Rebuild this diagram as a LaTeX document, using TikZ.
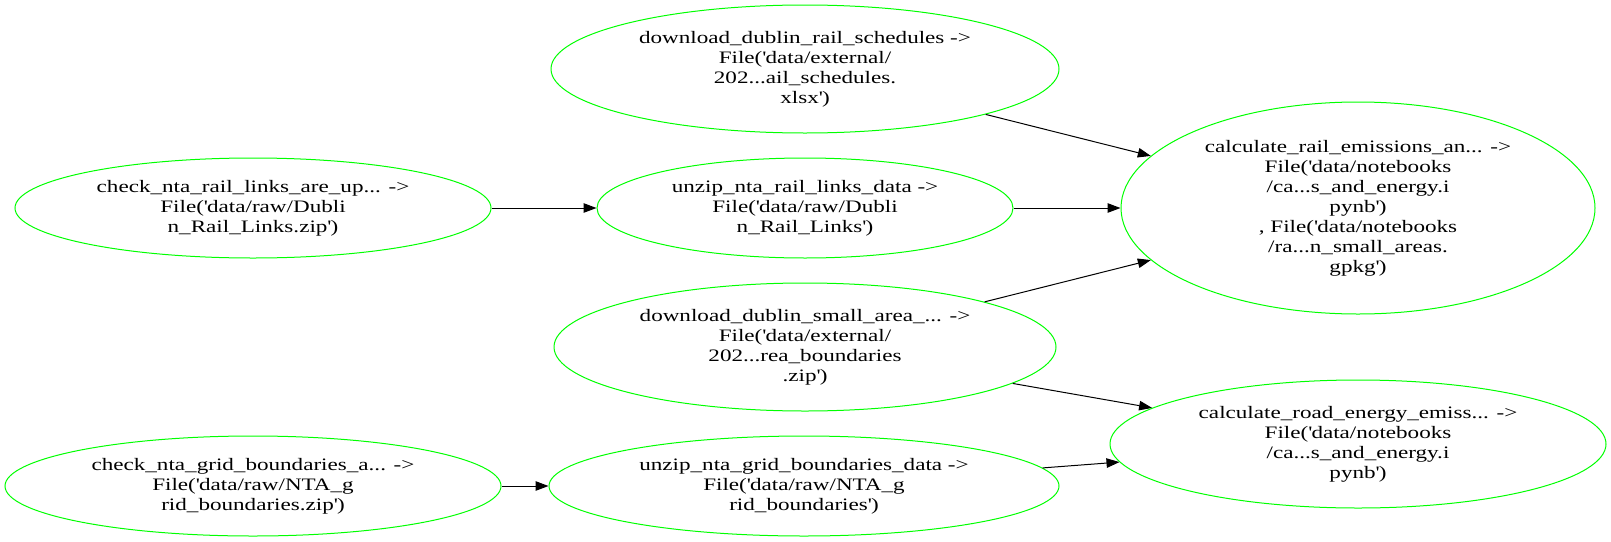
\documentclass[tikz,border=0pt]{standalone}
\usepackage{fontspec}
\setmainfont{Liberation Serif}[FakeStretch=1.32]
\usetikzlibrary{shapes.geometric,arrows.meta}
\newcommand\sq{\textquotesingle}
\definecolor{gvgreen}{RGB}{0,255,0}
\tikzset{
  task/.style={ellipse, draw=gvgreen, line width=1pt, inner sep=0pt, align=center,
    font=\fontsize{17.5}{20}\selectfont},
  dep/.style={line width=1pt, -{Triangle[length=13pt,width=9.5pt]}}
}
\begin{document}
\begin{tikzpicture}[x=1pt,y=-1pt]
\useasboundingbox (0,0) rectangle (1611,541);
\node[task, minimum width=508pt, minimum height=128pt] (n1) at (805,69)
  {download\_dublin\_rail\_schedules ->\\File(\sq data/external/\\202...ail\_schedules.\\xlsx\sq)};
\node[task, minimum width=476pt, minimum height=100pt] (n2) at (253,208)
  {check\_nta\_rail\_links\_are\_up... ->\\File(\sq data/raw/Dubli\\n\_Rail\_Links.zip\sq)};
\node[task, minimum width=416pt, minimum height=100pt] (n3) at (805,208)
  {unzip\_nta\_rail\_links\_data ->\\File(\sq data/raw/Dubli\\n\_Rail\_Links\sq)};
\node[task, minimum width=502pt, minimum height=128pt] (n4) at (805,347)
  {download\_dublin\_small\_area\_... ->\\File(\sq data/external/\\202...rea\_boundaries\\.zip\sq)};
\node[task, minimum width=496pt, minimum height=100pt] (n5) at (253,486)
  {check\_nta\_grid\_boundaries\_a... ->\\File(\sq data/raw/NTA\_g\\rid\_boundaries.zip\sq)};
\node[task, minimum width=510pt, minimum height=100pt] (n6) at (804,486)
  {unzip\_nta\_grid\_boundaries\_data ->\\File(\sq data/raw/NTA\_g\\rid\_boundaries\sq)};
\node[task, minimum width=474pt, minimum height=212pt] (n7) at (1358,208)
  {calculate\_rail\_emissions\_an... ->\\File(\sq data/notebooks\\/ca...s\_and\_energy.i\\pynb\sq)\\, File(\sq data/notebooks\\/ra...n\_small\_areas.\\gpkg\sq)};
\node[task, minimum width=496pt, minimum height=128pt] (n8) at (1358,444)
  {calculate\_road\_energy\_emiss... ->\\File(\sq data/notebooks\\/ca...s\_and\_energy.i\\pynb\sq)};
\draw[dep] (n1) -- (n7);
\draw[dep] (n2) -- (n3);
\draw[dep] (n3) -- (n7);
\draw[dep] (n4) -- (n7);
\draw[dep] (n4) -- (n8);
\draw[dep] (n5) -- (n6);
\draw[dep] (n6) -- (n8);
\end{tikzpicture}
\end{document}
